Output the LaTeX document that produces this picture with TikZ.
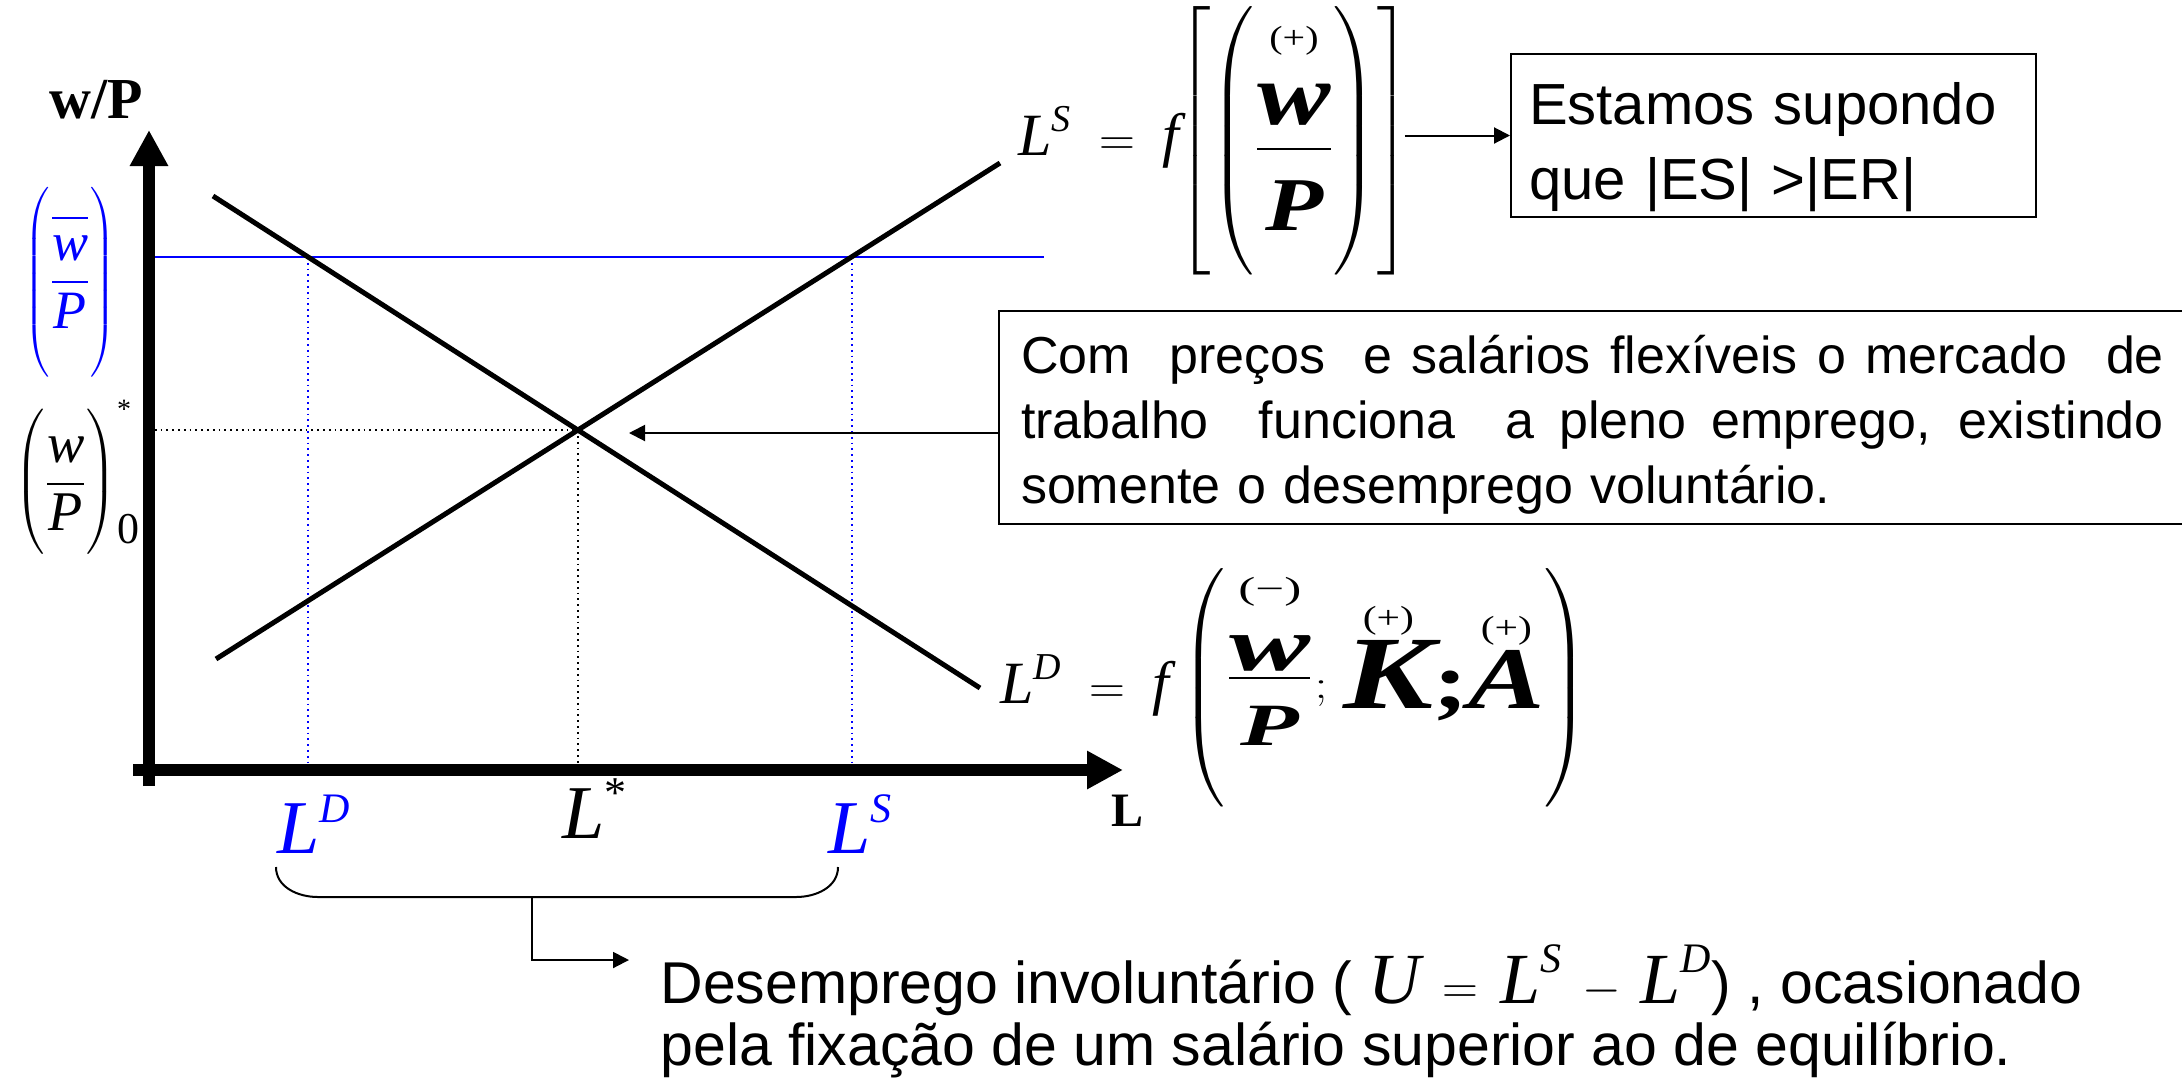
\documentclass[tikz,border=0pt]{standalone}
\usepackage{amsmath}
\usepackage{graphicx}
\usepackage{fontspec}
\setmainfont{Liberation Serif}
\newfontfamily\arialfont{Liberation Sans}
\usetikzlibrary{arrows.meta, calc}

\delimiterfactor=1000
\delimitershortfall=0pt

\newcommand{\fs}[1]{\fontsize{#1}{#1}\selectfont}
\newcommand{\mv}[1]{\text{\rmfamily\mdseries\itshape #1}}
\newcommand{\mvs}[2]{\text{\fs{#1}\rmfamily\mdseries\itshape #2}}
\newcommand{\mvb}[2]{\text{\fs{#1}\rmfamily\bfseries\itshape #2}}
\newcommand{\sgn}[1]{\text{\fs{16}\rmfamily\mdseries\upshape(#1)}}
% a justified line of the note
\newcommand{\fillline}[1]{\makebox[571.5pt][s]{\spaceskip=0.278em plus 1fil\relax #1}}

\tikzset{
  axis/.style={line width=6pt, -{Triangle[length=18pt,width=18pt]}},
  schedule/.style={line width=2.5pt},
  guide/.style={dotted, line width=0.9pt},
  floor/.style={blue, line width=1pt},
  pointer/.style={line width=1pt, -{Triangle[length=8pt,width=8pt]}},
  note/.style={draw, line width=1pt, inner ysep=0pt, align=left},
  eq/.style={inner sep=0pt},
}

\begin{document}
\begin{tikzpicture}[x=0.5pt, y=-0.5pt]
\useasboundingbox (0,0) rectangle (2182,1083);

% key points of the market
\coordinate (O) at (149,770);
\coordinate (E) at (578,430);
\coordinate (ED) at (308,257);
\coordinate (ES) at (852,257);

% wage floor and equilibrium guides
\draw[floor] (O |- ED) -- (1044,257);
\draw[guide, blue] (ED) -- (ED |- O);
\draw[guide, blue] (ES) -- (ES |- O);
\draw[guide] (O |- E) -- (E) -- (E |- O);

% supply and demand
\draw[schedule] (216,659) -- (1000,163);
\draw[schedule] (213,196) -- (980,688);

% axes
\draw[axis] (149,786) -- (149,130);
\draw[axis] (133,770) -- (1123,770);
\node[font=\fs{29}\bfseries] (ylab) at (96,100) {w/P};
\node[font=\fs{24}\bfseries] (xlab) at (1127,811) {L};

% wage levels
\node[eq, blue, anchor=west] (wfix) at (24,282) {\fs{15}$\left(\vcenter{\hbox{\rule{0pt}{92pt}}}\raisebox{-2.5pt}{\fs{27}$\dfrac{\overline{\vphantom{\mv{P}}\mv{w}}}{\mv{P}}$}\right)$};
\node[eq, anchor=west] (weq) at (14,478) {\fs{17}$\left(\vcenter{\hbox{\rule{0pt}{67pt}}}\raisebox{-3pt}{\fs{28}$\dfrac{\mv{w}}{\mv{P}}$}\right)^{\text{\fs{14}*}}_{\raisebox{6pt}{\fs{22}0}}$};

% employment levels
\node[eq, blue, anchor=base west, font=\fs{38}] (ld) at (277,853) {$\mv{L}^{\mvs{21}{D}}$};
\node[eq, anchor=base west, font=\fs{38}] (lstar) at (562,838) {$\mv{L}^{\text{\fs{22}*}}$};
\node[eq, blue, anchor=base west, font=\fs{38}] (ls) at (828,853) {$\mv{L}^{\mvs{21}{S}}$};

% involuntary unemployment
\coordinate (bl) at (276,867);
\coordinate (br) at (838,867);
\coordinate (bm) at (532,897);
\draw[line width=1pt] (bl) to[out=-90, in=180] ++(42,30) -- ($(br)+(-42,30)$) to[out=0, in=-90] (br);
\node[eq, anchor=north west, align=left, font={\arialfont\fontsize{29.5}{31}\selectfont}] (gap) at (660,960) {\rule{0pt}{20pt}Desemprego involuntário ( \smash{$\mvs{36}{U}\,=\,\mvs{36}{L}^{\mvs{21}{S}}\,-\,\mvs{36}{L}^{\mvs{21}{D}}$}) , ocasionado\\pela fixação de um salário superior ao de equilíbrio.};
\coordinate (gaptip) at (629,960);
\draw[pointer] (bm) |- (gaptip);

% flexible prices note
\node[note, font={\arialfont\fontsize{26}{32.5}\selectfont}, text width=571.5pt, inner xsep=11pt, anchor=north west] (flex) at (998,310) {\rule{0pt}{31pt}\fillline{Com\ \ preços\ \ e salários flexíveis o mercado\ \ de}\\\fillline{trabalho\ \ funciona\ \ a pleno emprego, existindo}\\somente o desemprego voluntário.\rule[-10.5pt]{0pt}{0pt}};
\coordinate (Etip) at (629,433);
\draw[pointer] (flex.west |- Etip) -- (Etip);

% labour supply
\node[eq, anchor=base east, font=\fs{30}] (lseq) at (1180,155) {$\mv{L}^{\mvs{19}{S}}\;=\;\mv{f}$};
\node[eq] (lsarg) at (1294,141) {\fs{24}$\left[\vcenter{\hbox{\rule{0pt}{126pt}}}\smash{\left(\vcenter{\hbox{\rule{0pt}{120pt}}}\scalebox{1.25}[1]{\raisebox{-4pt}{\fs{42}$\genfrac{}{}{0.8pt}{0}{\overset{\sgn{+}}{\rule{0pt}{32pt}\mvb{44}{w}}\rule[-9.5pt]{0pt}{0pt}}{\rule{0pt}{38pt}\mvb{38}{P}}$}}\right)}\right]$};
\node[note, font={\arialfont\fontsize{29}{37.5}\selectfont}, text width=244.5pt, inner xsep=9pt, anchor=north west] (hyp) at (1510,53) {\rule{0pt}{35pt}Estamos supondo\\que |ES| >|ER|\rule[-9pt]{0pt}{0pt}};
\draw[pointer] ([xshift=-3pt]lsarg.east |- hyp.west) -- (hyp.west);

% labour demand
\node[eq, anchor=base east, font=\fs{30}] (ldeq) at (1170,703) {$\mv{L}^{\mvs{19}{D}}\;=\;\mv{f}$};
\node[eq] (ldarg) at (1385,688) {\fs{34}$\left(\vcenter{\hbox{\rule{0pt}{119pt}}}\scalebox{1.6}[1]{\raisebox{5pt}{\fs{30}$\genfrac{}{}{0.8pt}{1}{\overset{\sgn{−}}{\rule{0pt}{30pt}\mvb{38}{w}}}{\rule{0pt}{32.5pt}\mvb{30}{P}}$}}\scalebox{1.3}[1]{\raisebox{1pt}{\fs{22}$;$}\hspace{6pt}\raisebox{-4pt}{\fs{46}$\overset{\sgn{+}}{\mvb{52}{K}}\text{\fs{40}\bfseries;}\overset{\sgn{+}}{\mvb{44}{A}}$}}\right)$};
\end{tikzpicture}
\end{document}
